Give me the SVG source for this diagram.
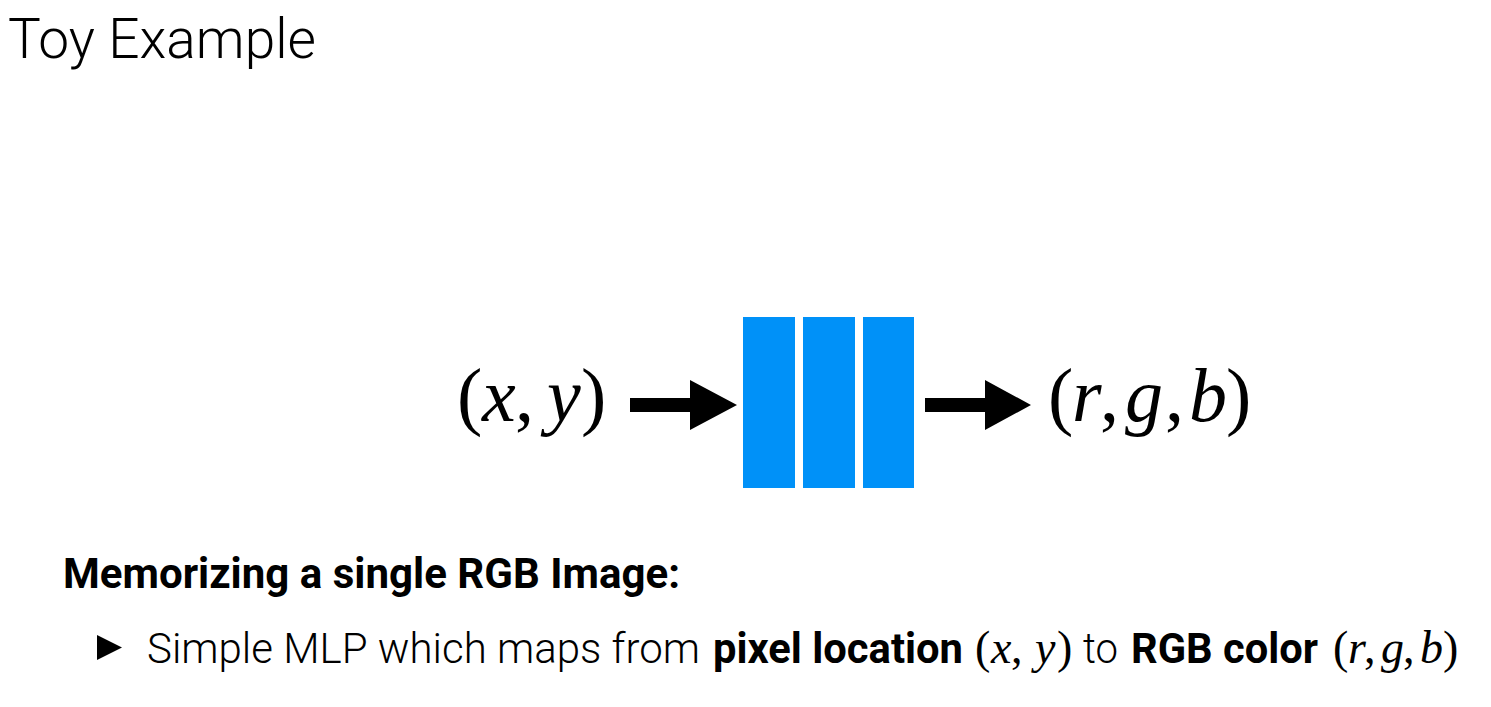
<svg xmlns="http://www.w3.org/2000/svg" width="1491" height="707" viewBox="0 0 1491 707">
<style>
.title{font-family:Roboto,"Liberation Sans",sans-serif;font-weight:300;font-size:56px;fill:#000}
.head{font-family:Roboto,"Liberation Sans",sans-serif;font-weight:700;font-size:42px;fill:#000}
.body{font-family:Roboto,"Liberation Sans",sans-serif;font-weight:300;font-size:42px;fill:#000}
.b{font-weight:700}
.math{font-family:"Liberation Serif","DejaVu Serif",serif;fill:#000;font-weight:400}
.big{font-size:76px}
.sm{font-size:46px}
.it{font-style:italic}
.bar{fill:#0091F8}
</style>
<rect width="1491" height="707" fill="#fff"/>
<text class="title" x="8" y="58" textLength="308" lengthAdjust="spacingAndGlyphs">Toy Example</text>
<g id="input">
<text class="math big" x="457" y="421">(</text>
<text class="math big it" x="482" y="421">x</text>
<text class="math big" x="515" y="421">,</text>
<text class="math big it" x="547" y="421">y</text>
<text class="math big" x="581" y="421">)</text>
</g>
<g id="mlp">
<rect class="bar" x="743" y="317" width="52" height="171"/>
<rect class="bar" x="803" y="317" width="52" height="171"/>
<rect class="bar" x="863" y="317" width="51" height="171"/>
</g>
<g id="output">
<text class="math big" x="1048" y="421">(</text>
<text class="math big it" x="1072" y="421">r</text>
<text class="math big" x="1100" y="421">,</text>
<text class="math big it" x="1125" y="421">g</text>
<text class="math big" x="1165" y="421">,</text>
<text class="math big it" x="1189" y="421">b</text>
<text class="math big" x="1226" y="421">)</text>
</g>
<g id="connectors">
<polygon points="630,398 690,398 690,380 737,405 690,430 690,412 630,412" fill="#000"/>
<polygon points="925,398 985,398 985,380 1031,405 985,430 985,412 925,412" fill="#000"/>
</g>
<text class="head" x="63" y="588" textLength="617" lengthAdjust="spacingAndGlyphs">Memorizing a single RGB Image:</text>
<polygon points="97,635 122,647.5 97,660" fill="#000"/>
<text class="body" x="147" y="663" textLength="553" lengthAdjust="spacingAndGlyphs">Simple MLP which maps from</text>
<text class="body b" x="713" y="663" textLength="250" lengthAdjust="spacingAndGlyphs">pixel location</text>
<text class="math sm" x="975" y="663">(</text>
<text class="math sm it" x="991" y="663">x</text>
<text class="math sm" x="1011" y="663">,</text>
<text class="math sm it" x="1035" y="663">y</text>
<text class="math sm" x="1057" y="663">)</text>
<text class="body" x="1083" y="663" textLength="35" lengthAdjust="spacingAndGlyphs">to</text>
<text class="body b" x="1131" y="663" textLength="187" lengthAdjust="spacingAndGlyphs">RGB color</text>
<text class="math sm" x="1333" y="663">(</text>
<text class="math sm it" x="1348" y="663">r</text>
<text class="math sm" x="1364" y="663">,</text>
<text class="math sm it" x="1381" y="663">g</text>
<text class="math sm" x="1403" y="663">,</text>
<text class="math sm it" x="1420" y="663">b</text>
<text class="math sm" x="1443" y="663">)</text>
</svg>
